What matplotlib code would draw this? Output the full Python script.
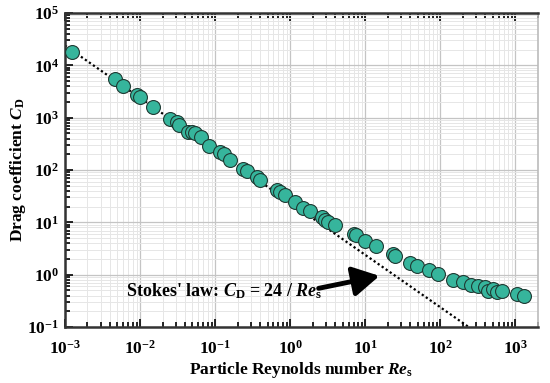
import matplotlib
matplotlib.use("Agg")
import matplotlib.pyplot as plt
import numpy as np
from matplotlib.ticker import LogLocator, FixedLocator, NullFormatter

plt.rcParams['font.family'] = ['Liberation Serif']
plt.rcParams['font.weight'] = 'bold'
plt.rcParams['mathtext.fontset'] = 'custom'
plt.rcParams['mathtext.rm'] = 'Liberation Serif:bold'
plt.rcParams['mathtext.bf'] = 'Liberation Serif:bold'
plt.rcParams['mathtext.it'] = 'Liberation Serif:bold:italic'

re_s = [1.25e-3, 4.6e-3, 6.0e-3, 9.2e-3, 1.0e-2, 1.5e-2, 2.5e-2, 3.1e-2, 3.3e-2, 4.4e-2,
        4.9e-2, 5.4e-2, 6.6e-2, 8.4e-2, 0.117, 0.132, 0.158, 0.239, 0.263, 0.366,
        0.398, 0.665, 0.73, 0.86, 1.17, 1.5, 1.85, 2.64, 2.9, 3.2,
        4.0, 7.0, 7.6, 10.0, 14.0, 23.4, 25.0, 39.8, 48.8, 70.0,
        92.0, 150.0, 200.0, 256.0, 314.0, 398.0, 428.0, 505.0, 570.0, 664.0,
        1050.0, 1290.0]
cd = [1.82e4, 5.4e3, 4.1e3, 2.7e3, 2.45e3, 1.6e3, 940, 835, 720, 540,
      540, 500, 430, 287, 223, 207, 155, 107, 96, 74,
      65, 41, 38, 33, 24.7, 19, 16.6, 12.7, 11, 10.0,
      8.8, 5.9, 5.7, 4.4, 3.5, 2.47, 2.3, 1.68, 1.46, 1.22,
      1.05, 0.81, 0.72, 0.65, 0.62, 0.58, 0.49, 0.54, 0.47, 0.49,
      0.42, 0.40]
stokes_re = [1e-3, 2e3]
stokes_cd = [24 / r for r in stokes_re]

x_ticks = [1e-3, 1e-2, 1e-1, 1e0, 1e1, 1e2, 1e3]
x_ticklabels = [r'$\mathbf{10^{-3}}$', r'$\mathbf{10^{-2}}$', r'$\mathbf{10^{-1}}$',
                r'$\mathbf{10^{0}}$', r'$\mathbf{10^{1}}$', r'$\mathbf{10^{2}}$', r'$\mathbf{10^{3}}$']
y_ticks = [1e-1, 1e0, 1e1, 1e2, 1e3, 1e4, 1e5]
y_ticklabels = [r'$\mathbf{10^{-1}}$', r'$\mathbf{10^{0}}$', r'$\mathbf{10^{1}}$',
                r'$\mathbf{10^{2}}$', r'$\mathbf{10^{3}}$', r'$\mathbf{10^{4}}$', r'$\mathbf{10^{5}}$']

fig = plt.figure(figsize=(5.5, 3.83), dpi=100)
ax = fig.add_axes([0.118, 0.146, 0.860, 0.820])
ax.set_xscale('log')
ax.set_yscale('log')
ax.set_xlim(1e-3, 2e3)
ax.set_ylim(1e-1, 1e5)

ax.set_xticks(x_ticks)
ax.set_xticklabels(x_ticklabels)
ax.set_yticks(y_ticks)
ax.set_yticklabels(y_ticklabels)
ax.xaxis.set_minor_locator(LogLocator(base=10, subs=np.arange(2, 10), numticks=20))
ax.yaxis.set_minor_locator(LogLocator(base=10, subs=np.arange(2, 10), numticks=20))
ax.xaxis.set_minor_formatter(NullFormatter())
ax.yaxis.set_minor_formatter(NullFormatter())

ax.grid(True, which='major', color='#c4c4c4', lw=0.9, zorder=0)
ax.grid(True, which='minor', color='#e6e6e6', lw=0.7, zorder=0)

ax.plot(stokes_re, stokes_cd, ls=(0, (1, 1.2)), color='black', lw=1.6, zorder=2)
ax.plot(re_s, cd, 'o', ms=10, mfc='#36b59c', mec='#1f3a33', mew=0.8, zorder=3)

ax.tick_params(which='both', direction='in', top=True, right=False, labelsize=12.5, width=1.2)
ax.tick_params(which='major', length=6)
ax.tick_params(axis='x', which='major', pad=9)
ax.tick_params(axis='y', which='major', pad=4)
ax.tick_params(which='minor', length=3.5)

for s in ['left', 'bottom', 'top']:
    ax.spines[s].set_color('#333333')
    ax.spines[s].set_linewidth(1.8)
ax.spines['right'].set_color('#bbbbbb')
ax.spines['right'].set_linewidth(1.2)

ax.set_xlabel(r'Particle Reynolds number $\mathit{Re}_{\rm s}$', fontsize=12.5, fontweight='bold')
ax.set_ylabel(r'Drag coefficient $\mathit{C}_{\rm D}$', fontsize=12.5, fontweight='bold')
ax.xaxis.set_label_coords(0.5, -0.105)
ax.yaxis.set_label_coords(-0.077, 0.5)

ax.text(6.5e-3, 0.48, r"Stokes' law: $\mathit{C}_{\rm D}$ = 24 / $\mathit{Re}_{\rm s}$",
        fontsize=13, fontweight='bold', va='center', ha='left', zorder=4)
ax.annotate('', xy=(15.5, 0.95), xytext=(2.4, 0.55),
            arrowprops=dict(arrowstyle='-|>,head_length=0.8,head_width=0.45', lw=3.5,
                            color='black', mutation_scale=20, shrinkA=0, shrinkB=0), zorder=4)

fig.savefig('out.png', dpi=100)
